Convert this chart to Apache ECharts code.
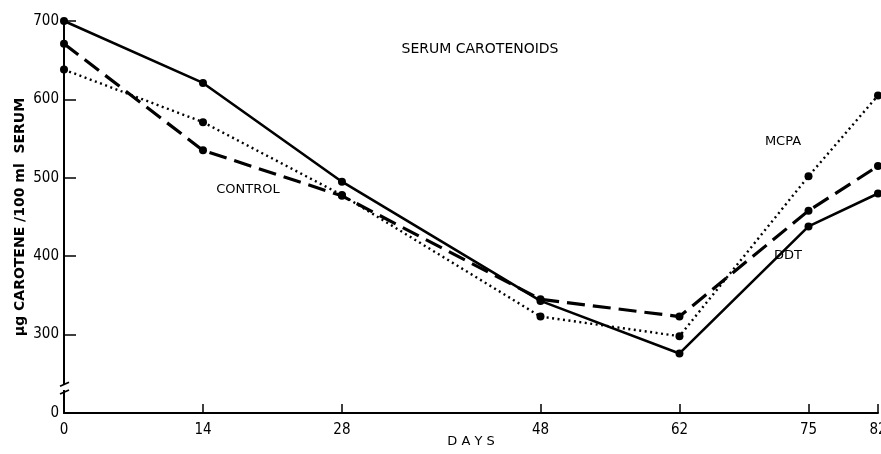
<!DOCTYPE html>
<html>
<head>
<meta charset="utf-8">
<script src="https://cdn.jsdelivr.net/npm/echarts@6/dist/echarts.min.js"></script>
<style>
html,body{margin:0;padding:0;background:#fff;}
#chart{width:881px;height:454px;}
</style>
</head>
<body>
<div id="chart"></div>
<script>
// ---- data ----
var days = [0, 14, 28, 48, 62, 75, 82];
var ddt = [700, 621, 495, 343, 276, 438, 480];      // solid line
var control = [671, 535, 477, 345, 323, 458, 515];  // dashed line
var mcpa = [638, 571, 478, 323, 298, 502, 605];     // dotted line
var yTickValues = [200, 300, 400, 500, 600, 700];   // 200 is drawn as the broken-axis "0"
var yTickLabels = ['0', '300', '400', '500', '600', '700'];
var xTickLabels = ['0', '14', '28', '48', '62', '75', '82'];

var FONT = "'DejaVu Sans Condensed', 'Liberation Sans Narrow', 'DejaVu Sans', sans-serif";
var FONT2 = "'DejaVu Sans', sans-serif";

function pairs(vals) {
  return days.map(function (d, i) { return [d, vals[i]]; });
}

var chart = echarts.init(document.getElementById('chart'), null, {renderer: 'canvas'});

function mkSeries(name, vals, width, dash) {
  return {
    name: name,
    type: 'line',
    data: pairs(vals),
    symbol: 'circle',
    symbolSize: 8,
    itemStyle: {color: '#000'},
    lineStyle: {color: '#000', width: width, type: dash},
    z: 3,
    animation: false
  };
}

var option = {
  backgroundColor: '#fff',
  animation: false,
  grid: {left: 64, right: 3, top: 21, bottom: 41, containLabel: false, outerBoundsMode: 'none'},
  xAxis: {
    type: 'value',
    min: 0,
    max: 82,
    interval: 1,
    name: 'D A Y S',
    nameLocation: 'middle',
    nameGap: 22,
    nameMoveOverlap: false,
    nameTextStyle: {color: '#000', fontSize: 13, fontFamily: FONT2},
    axisLine: {show: true, lineStyle: {color: '#000', width: 2}},
    axisTick: {
      show: true, inside: true, length: 9,
      lineStyle: {color: '#000', width: 1.5},
      customValues: days
    },
    axisLabel: {
      color: '#000', fontSize: 15, fontFamily: FONT, margin: 10,
      customValues: days, hideOverlap: false,
      formatter: function (v) { var i = days.indexOf(v); return i >= 0 ? xTickLabels[i] : ''; }
    },
    splitLine: {show: false}
  },
  yAxis: {
    type: 'value',
    min: 200,
    max: 700,
    interval: 100,
    name: 'μg CAROTENE /100 ml  SERUM',
    nameLocation: 'middle',
    nameRotate: 90,
    nameGap: 37,
    nameMoveOverlap: false,
    nameTextStyle: {color: '#000', fontSize: 14, fontWeight: 'bold', fontFamily: FONT2},
    axisLine: {show: true, lineStyle: {color: '#000', width: 2}},
    axisTick: {show: true, inside: true, length: 12, lineStyle: {color: '#000', width: 1.5}},
    axisLabel: {
      color: '#000', fontSize: 15, fontFamily: FONT, margin: 5,
      formatter: function (v) { var i = yTickValues.indexOf(v); return i >= 0 ? yTickLabels[i] : ''; }
    },
    splitLine: {show: false}
  },
  series: [
    mkSeries('DDT', ddt, 2.6, 'solid'),
    mkSeries('CONTROL', control, 3.2, [18, 8]),
    mkSeries('MCPA', mcpa, 2.4, [2, 3.5])
  ]
};
chart.setOption(option);

// annotations and axis-break marks
var yb1 = chart.convertToPixel({yAxisIndex: 0}, 238);
var yb2 = chart.convertToPixel({yAxisIndex: 0}, 228);
var x0 = chart.convertToPixel({xAxisIndex: 0}, 0);
chart.setOption({
  graphic: [
    {type: 'rect', z: 100, shape: {x: x0 - 6, y: yb1 + 1, width: 12, height: (yb2 - yb1) - 2}, style: {fill: '#fff'}},
    {type: 'line', z: 101, shape: {x1: x0 - 4, y1: yb1 + 3, x2: x0 + 5, y2: yb1 - 1}, style: {stroke: '#000', lineWidth: 1.8}},
    {type: 'line', z: 101, shape: {x1: x0 - 4, y1: yb2 + 3, x2: x0 + 5, y2: yb2 - 1}, style: {stroke: '#000', lineWidth: 1.8}},
    {type: 'text', z: 100, x: 480, y: 49, style: {text: 'SERUM CAROTENOIDS', fill: '#000', font: '14px ' + FONT2, align: 'center', verticalAlign: 'middle'}},
    {type: 'text', z: 100, x: 248, y: 190, style: {text: 'CONTROL', fill: '#000', font: '13px ' + FONT2, align: 'center', verticalAlign: 'middle'}},
    {type: 'text', z: 100, x: 783, y: 142, style: {text: 'MCPA', fill: '#000', font: '13px ' + FONT2, align: 'center', verticalAlign: 'middle'}},
    {type: 'text', z: 100, x: 788, y: 256, style: {text: 'DDT', fill: '#000', font: '13px ' + FONT2, align: 'center', verticalAlign: 'middle'}}
  ]
});
</script>
</body>
</html>
